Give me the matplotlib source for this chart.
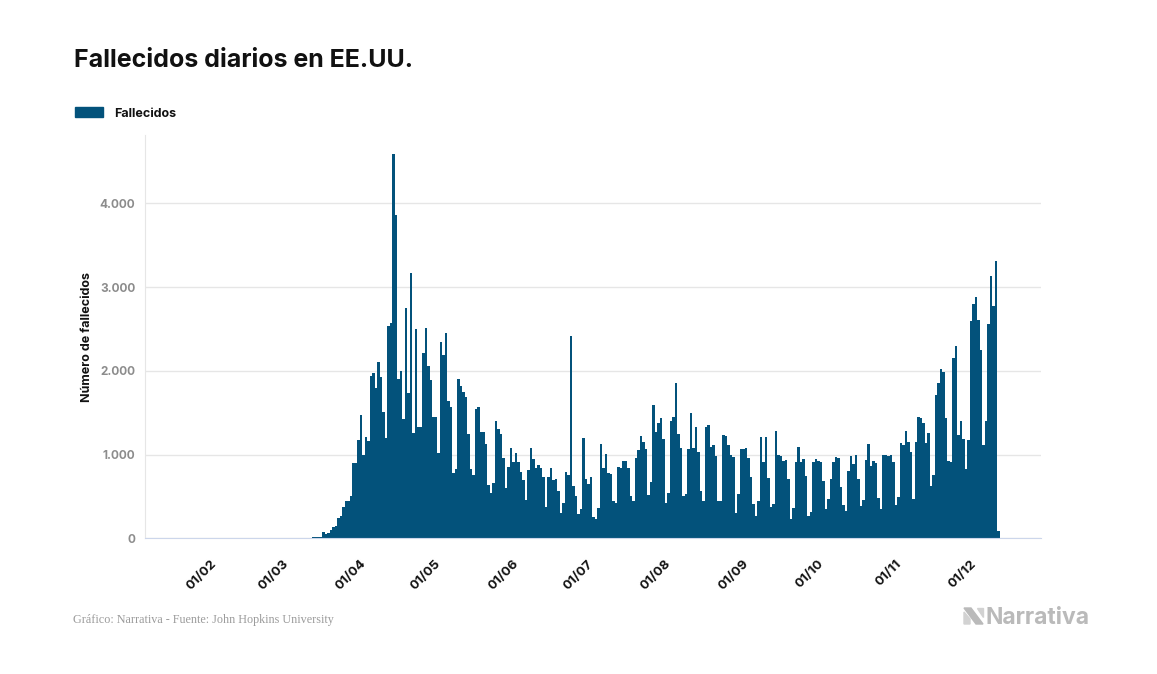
import pandas as pd
import matplotlib
matplotlib.use('Agg')
import matplotlib.pyplot as plt
import matplotlib.dates as mdates
from matplotlib.patches import Rectangle, Polygon
from matplotlib.ticker import FuncFormatter

# Daily deaths, USA (John Hopkins University)
start_date = '2020-01-22'
deaths_jan = [0] * 10
deaths_feb = [0] * 28 + [1]
deaths_mar = [1, 5, 3, 2, 2, 3, 4, 5, 5, 5, 8, 8, 10, 20, 20, 15, 80, 50, 60, 100,
              130, 145, 240, 265, 370, 445, 445, 510, 895, 895, 1170]
deaths_apr = [1470, 1000, 1210, 1165, 1935, 1970, 1790, 2107, 1920, 1510, 1200,
              2532, 2572, 4592, 3857, 1897, 2000, 1430, 2755, 1737, 3173, 1260,
              2493, 1330, 1332, 2207, 2505, 2055, 1889, 1451]
deaths_may = [1451, 1022, 2338, 2187, 2453, 1638, 1570, 783, 823, 1900, 1817, 1750,
              1682, 1244, 823, 755, 1539, 1570, 1264, 1264, 1125, 636, 537, 656,
              1400, 1300, 1244, 954, 596, 847, 1073]
deaths_jun = [914, 1014, 914, 795, 696, 457, 815, 1073, 942, 835, 880, 835, 736,
              378, 736, 835, 696, 704, 569, 306, 425, 795, 755, 2413, 624, 505,
              290, 350, 1200, 704]
deaths_jul = [648, 728, 250, 230, 358, 1121, 835, 1006, 775, 763, 445, 417, 847,
              843, 922, 922, 835, 509, 449, 962, 1054, 1225, 1153, 1062, 517, 676,
              1590, 1272, 1380, 1431, 1181]
deaths_aug = [417, 545, 1400, 1451, 1849, 1240, 1073, 509, 529, 1066, 1499, 1073,
              1332, 1026, 569, 445, 1324, 1352, 1085, 1113, 983, 449, 449, 1232,
              1225, 1113, 994, 966, 306, 525, 1062]
deaths_sep = [1062, 1073, 954, 728, 410, 266, 445, 1213, 914, 1213, 716, 378, 410,
              1284, 994, 983, 926, 934, 708, 227, 358, 914, 1093, 914, 946, 743,
              266, 318, 914, 946]
deaths_oct = [926, 914, 684, 346, 465, 704, 914, 966, 954, 616, 398, 326, 803, 986,
              887, 994, 708, 386, 457, 934, 1125, 863, 926, 903, 477, 346, 994,
              994, 983, 994, 907]
deaths_nov = [398, 497, 1133, 1113, 1280, 1153, 1026, 465, 1153, 1443, 1431, 1372,
              1141, 1260, 624, 755, 1710, 1849, 2016, 1980, 1431, 922, 914, 2147,
              2294, 1232, 1400, 1185, 827, 1173]
deaths_dec = [2592, 2803, 2875, 2604, 2254, 1113, 1400, 2553, 3129, 2775, 3308, 91]

deaths = (deaths_jan + deaths_feb + deaths_mar + deaths_apr + deaths_may +
          deaths_jun + deaths_jul + deaths_aug + deaths_sep + deaths_oct +
          deaths_nov + deaths_dec)
dates = pd.date_range(start_date, periods=len(deaths), freq='D')

tick_dates = pd.date_range('2020-02-01', '2020-12-01', freq='MS')
y_ticks = [0, 1000, 2000, 3000, 4000]

bar_color = '#03527b'

plt.rcParams['font.family'] = ['Inter', 'DejaVu Sans']

fig = plt.figure(figsize=(11.57, 6.74), dpi=100)
W, H = 1157, 674
ax = fig.add_axes([145 / W, 1 - 538.3 / H, 896 / W, 403.3 / H])

ax.bar(dates, deaths, width=1.0, align='edge', color=bar_color, linewidth=0, zorder=2)

x0 = mdates.date2num(dates[0])
ax.set_xlim(x0 - 16, x0 + 342.4)
ax.set_ylim(0, 4815)

# grid and axes
ax.set_yticks(y_ticks)
ax.yaxis.set_major_formatter(FuncFormatter(lambda v, p: f'{int(v):,}'.replace(',', '.')))
ax.grid(axis='y', color='#e6e6e6', linewidth=1, zorder=0)
ax.set_axisbelow(True)
for s in ['top', 'right']:
    ax.spines[s].set_visible(False)
ax.spines['left'].set_color('#e6e6e6')
ax.spines['bottom'].set_color('#ccd6eb')
ax.tick_params(axis='y', length=0, pad=7, labelsize=8.5, labelcolor='#8c8c8c')
for lab in ax.get_yticklabels():
    lab.set_fontweight('bold')

ax.set_xticks(tick_dates)
ax.set_xticklabels([d.strftime('%d/%m') for d in tick_dates], rotation=45,
                   ha='right', rotation_mode='anchor', fontsize=9.5,
                   fontweight='bold', color='#111111')
ax.tick_params(axis='x', length=0, pad=14)

ax.set_ylabel('Número de fallecidos', fontsize=9, fontweight='bold', color='#111111')
ax.yaxis.set_label_coords(-52 / 896, 0.5)

# title
fig.text(74 / W, 1 - 67 / H, 'Fallecidos diarios en EE.UU.', fontsize=18,
         fontweight='bold', color='#111111', va='baseline')

# legend
fig.patches.append(Rectangle((75 / W, 1 - 117 / H), 28 / W, 10 / H,
                             transform=fig.transFigure, color=bar_color))
fig.text(114 / W, 1 - 117 / H, 'Fallecidos', fontsize=9, fontweight='bold',
         color='#111111', va='baseline')

# source
fig.text(73 / W, 1 - 623 / H, 'Gráfico: Narrativa - Fuente: John Hopkins University',
         fontsize=8.7, family='Liberation Serif', color='#9b9b9b', va='baseline')

# logo
fig.text(985 / W, 1 - 624 / H, 'Narrativa', fontsize=16.5, fontweight='bold',
         color='#bababa', va='baseline')
logo_a = [(964, 608), (971, 608), (983, 624), (976, 624)]
logo_b = [(964, 612), (970, 619), (970, 624), (964, 624)]
logo_c = [(977, 608), (983, 608), (983, 617)]
for pts, c in [(logo_a, '#bababa'), (logo_b, '#d2d2d2'), (logo_c, '#d2d2d2')]:
    fig.patches.append(Polygon([(x / W, 1 - y / H) for x, y in pts],
                               closed=True, transform=fig.transFigure, color=c))

fig.savefig('out.png', dpi=100, facecolor='white')
